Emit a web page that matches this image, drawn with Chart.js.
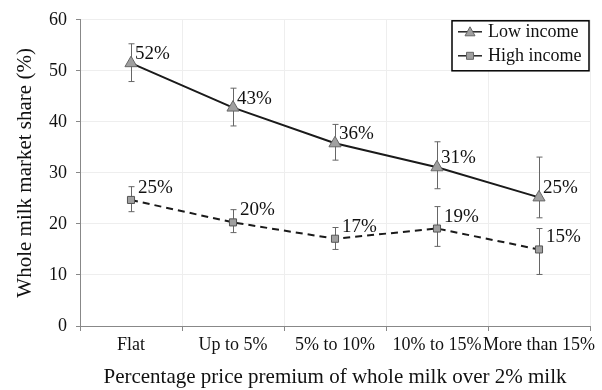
<!DOCTYPE html>
<html>
<head>
<meta charset="utf-8">
<script src="https://cdn.jsdelivr.net/npm/chart.js@4"></script>
<style>
  html, body { margin: 0; padding: 0; background: #fff; }
  #wrap { width: 602px; height: 390px; }
</style>
</head>
<body>
<div id="wrap"><canvas id="milkChart" width="602" height="390"></canvas></div>
<script>
const categories = ["Flat", "Up to 5%", "5% to 10%", "10% to 15%", "More than 15%"];

const lowIncome = [51.5, 42.8, 35.8, 31.1, 25.2];
const lowUpper = [55.3, 46.6, 39.5, 36.1, 33.1];
const lowLower = [47.9, 39.2, 32.5, 26.9, 21.2];
const lowLabels = ["52%", "43%", "36%", "31%", "25%"];

const highIncome = [24.7, 20.3, 17.1, 19.1, 15.0];
const highUpper = [27.3, 22.8, 19.3, 23.4, 19.1];
const highLower = [22.4, 18.3, 15.0, 15.6, 10.1];
const highLabels = ["25%", "20%", "17%", "19%", "15%"];

const serif = "'Liberation Serif', 'Times New Roman', serif";

// error bars, drawn under the markers
const errorBars = {
    id: "errorBars",
    beforeDatasetsDraw(chart){
        const ctx = chart.ctx;
        const x = chart.scales.x;
        const y = chart.scales.y;
        const sets = [[lowUpper, lowLower], [highUpper, highLower]];
        ctx.save();
        ctx.strokeStyle = "#666";
        ctx.lineWidth = 1;
        sets.forEach(s => {
            categories.forEach((c, i) => {
                const px = Math.round(x.getPixelForValue(i)) + 0.5;
                const top = y.getPixelForValue(s[0][i]);
                const bot = y.getPixelForValue(s[1][i]);
                ctx.beginPath();
                ctx.moveTo(px, top); ctx.lineTo(px, bot);
                ctx.moveTo(px - 3, top); ctx.lineTo(px + 3, top);
                ctx.moveTo(px - 3, bot); ctx.lineTo(px + 3, bot);
                ctx.stroke();
            });
        });
        ctx.restore();
    }
};

// percent labels next to each point
const pointLabels = {
    id: "pointLabels",
    afterDatasetsDraw(chart){
        const ctx = chart.ctx;
        ctx.save();
        ctx.font = "19px " + serif;
        ctx.fillStyle = "#111";
        ctx.textAlign = "left";
        ctx.textBaseline = "middle";
        const all = [[lowLabels, 4, -9], [highLabels, 7, -12]];
        all.forEach((a, d) => {
            chart.getDatasetMeta(d).data.forEach((pt, i) => {
                ctx.fillText(a[0][i], pt.x + a[1], pt.y + a[2]);
            });
        });
        ctx.restore();
    }
};

// boxed legend in the top right corner
const boxLegend = {
    id: "boxLegend",
    afterDraw(chart){
        const ctx = chart.ctx;
        const area = chart.chartArea;
        const w = 137, h = 50;
        const left = area.right - w - 1, top = area.top + 1;
        ctx.save();
        ctx.fillStyle = "#fff";
        ctx.fillRect(left, top, w, h);
        ctx.strokeStyle = "#000";
        ctx.lineWidth = 1.5;
        ctx.strokeRect(left, top, w, h);
        ctx.font = "18px " + serif;
        ctx.textBaseline = "middle";
        chart.data.datasets.forEach((ds, i) => {
            const cy = top + 11 + i * 24;
            ctx.strokeStyle = "#222";
            ctx.lineWidth = 1.5;
            ctx.beginPath();
            ctx.moveTo(left + 6, cy); ctx.lineTo(left + 30, cy);
            ctx.stroke();
            ctx.fillStyle = "#a0a0a0";
            ctx.strokeStyle = "#666";
            ctx.lineWidth = 1;
            ctx.beginPath();
            if (ds.pointStyle === "triangle") {
                ctx.moveTo(left + 18, cy - 5);
                ctx.lineTo(left + 23, cy + 4);
                ctx.lineTo(left + 13, cy + 4);
                ctx.closePath();
            } else {
                ctx.rect(left + 14.5, cy - 3.5, 7, 7);
            }
            ctx.fill(); ctx.stroke();
            ctx.fillStyle = "#111";
            ctx.fillText(ds.label, left + 36, cy);
        });
        ctx.restore();
    }
};

new Chart(document.getElementById("milkChart"), {
    type: "line",
    data: {
        labels: categories,
        datasets: [{
            label: "Low income",
            data: lowIncome,
            borderColor: "#1a1a1a",
            borderWidth: 2,
            pointStyle: "triangle",
            pointRadius: 7,
            pointBackgroundColor: "#a0a0a0",
            pointBorderColor: "#666",
            pointBorderWidth: 1
        }, {
            label: "High income",
            data: highIncome,
            borderColor: "#1a1a1a",
            borderWidth: 2,
            borderDash: [7, 5],
            pointStyle: "rect",
            pointRadius: 5,
            pointBackgroundColor: "#a0a0a0",
            pointBorderColor: "#555",
            pointBorderWidth: 1
        }]
    },
    options: {
        responsive: false,
        animation: false,
        layout: { padding: { top: 18, right: 12, left: 0, bottom: 0 } },
        plugins: {
            legend: { display: false },
            tooltip: { enabled: false }
        },
        scales: {
            x: {
                offset: true,
                grid: { offset: true, color: "#eeeeee", tickColor: "#888", tickLength: 5 },
                border: { color: "#888", width: 1 },
                ticks: { color: "#111", font: { family: serif, size: 18 }, padding: 3, maxRotation: 0, autoSkip: false },
                title: { display: true, text: "Percentage price premium of whole milk over 2% milk",
                    color: "#111", font: { family: serif, size: 21 }, padding: { top: 4, bottom: 0 } },
                afterFit(s){ s.height = 64; }
            },
            y: {
                min: 0,
                max: 60,
                ticks: { stepSize: 10, color: "#111", font: { family: serif, size: 18 }, padding: 9 },
                grid: { color: "#eeeeee", tickColor: "#888", tickLength: 4 },
                border: { color: "#888", width: 1 },
                title: { display: true, text: "Whole milk market share (%)",
                    color: "#111", font: { family: serif, size: 21 }, padding: { top: 13, bottom: 0 } },
                afterFit(s){ s.width = 80; }
            }
        }
    },
    plugins: [errorBars, pointLabels, boxLegend]
});
</script>
</body>
</html>
